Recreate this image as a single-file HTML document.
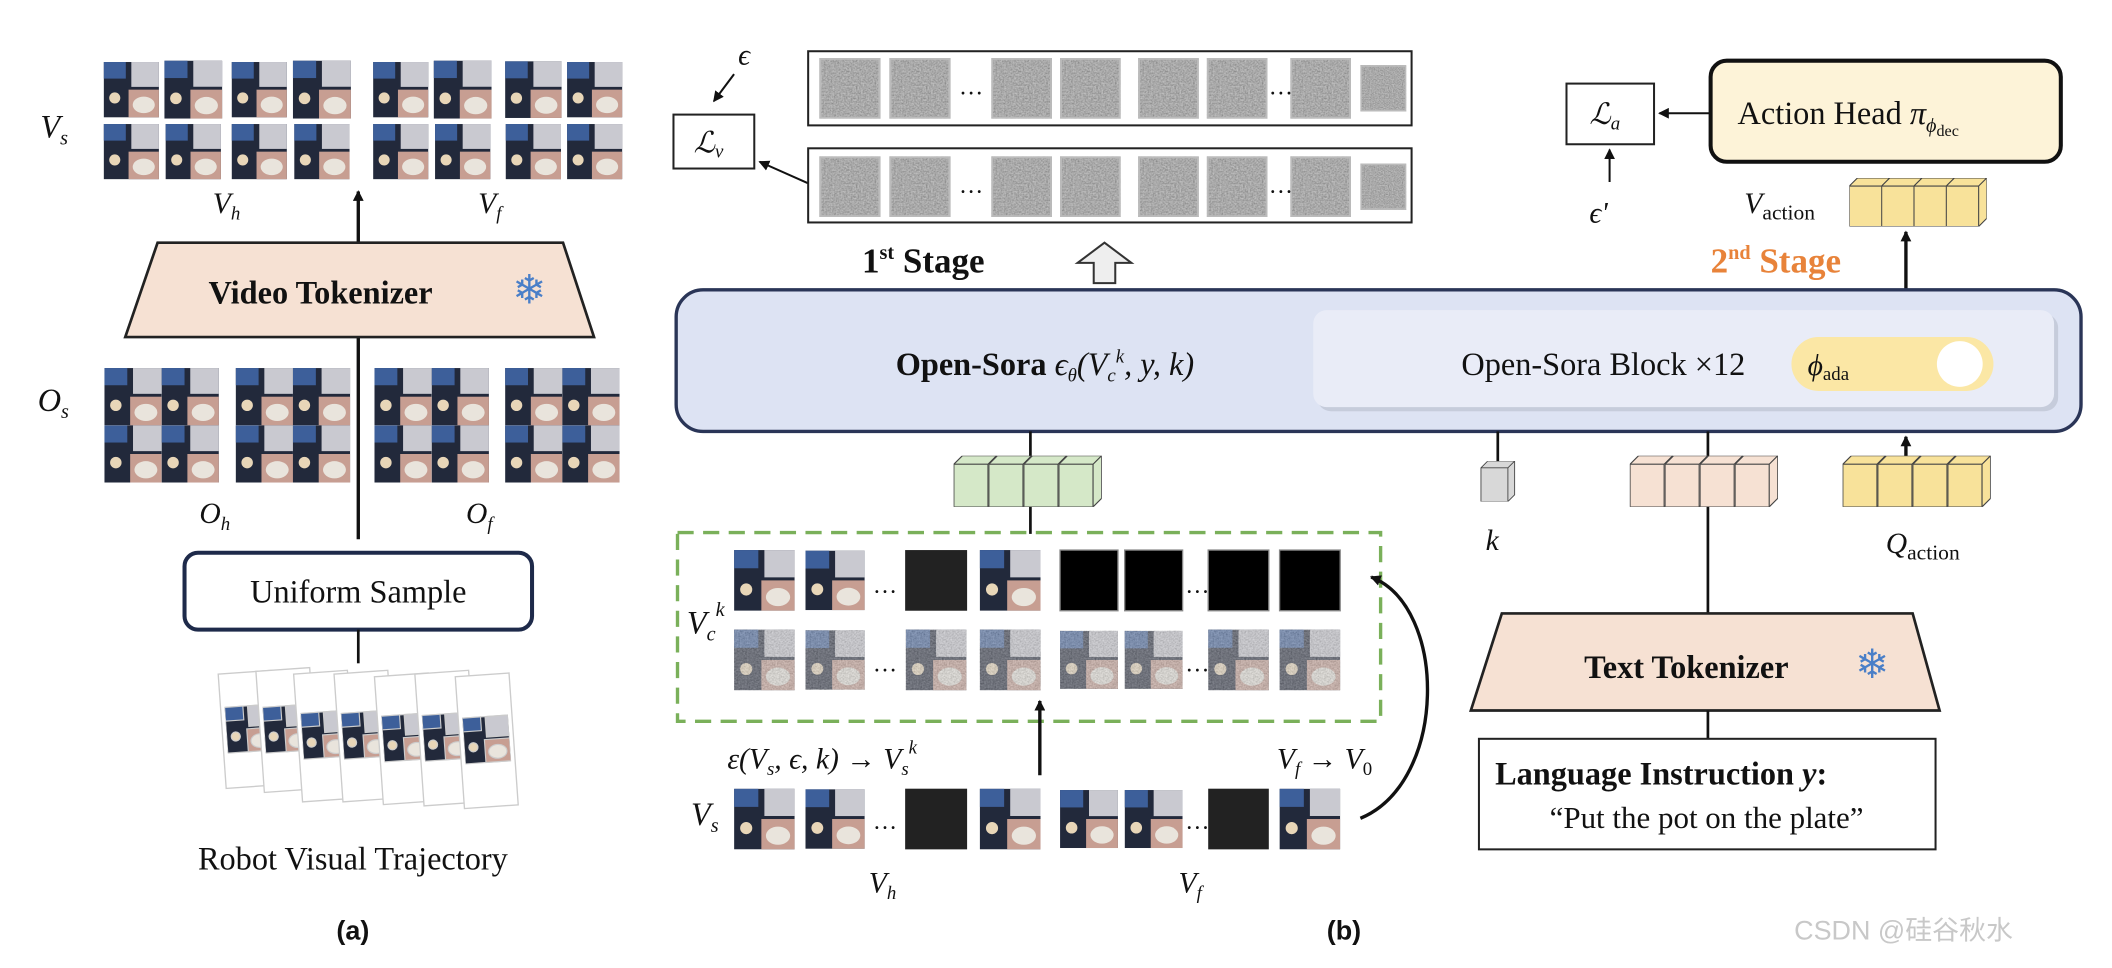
<!DOCTYPE html>
<html><head><meta charset="utf-8"><style>
html,body{margin:0;padding:0;background:#fff;}
svg{display:block;}
text{font-family:"Liberation Serif",serif;fill:#111;}
.s{font-family:"Liberation Sans",sans-serif;}
</style></head><body>
<svg width="2112" height="968" viewBox="0 0 1568 718" preserveAspectRatio="none" xmlns="http://www.w3.org/2000/svg">
<defs>
<marker id="ar" markerWidth="8" markerHeight="8" refX="7" refY="4" orient="auto" markerUnits="userSpaceOnUse"><path d="M0,0 L8,4 L0,8 z" fill="#111"/></marker>
<filter id="nz" x="0" y="0" width="1" height="1"><feTurbulence type="fractalNoise" baseFrequency="0.9" numOctaves="2" seed="3"/><feColorMatrix type="saturate" values="0"/><feComponentTransfer><feFuncA type="linear" slope="0" intercept="1"/></feComponentTransfer></filter>
<symbol id="fr" viewBox="0 0 40 40"><rect width="40" height="40" fill="#22293b"/><rect x="0" y="0" width="16" height="12" fill="#3d5f9a"/><rect x="20" y="0" width="20" height="18" fill="#c9c9d0"/><rect x="18" y="20" width="22" height="20" fill="#c79e92"/><ellipse cx="29" cy="31" rx="8" ry="6" fill="#e9e4dc"/><circle cx="8" cy="26" r="4" fill="#e8d6b8"/></symbol>
<symbol id="fq" viewBox="0 0 80 80"><use href="#fr" x="0" y="0" width="40" height="40"/><use href="#fr" x="40" y="0" width="40" height="40"/><use href="#fr" x="0" y="40" width="40" height="40"/><use href="#fr" x="40" y="40" width="40" height="40"/></symbol>
<symbol id="nf" viewBox="0 0 40 40"><rect width="40" height="40" filter="url(#nz)"/><rect width="40" height="40" fill="#888" opacity="0.35"/><rect x="0.5" y="0.5" width="39" height="39" fill="none" stroke="#bbb" stroke-width="1.5"/></symbol>
<symbol id="nc" viewBox="0 0 40 40"><use href="#fr" width="40" height="40"/><rect width="40" height="40" filter="url(#nz)" opacity="0.5"/></symbol>
<symbol id="cube" viewBox="0 0 30 36"><path d="M0,6 L6,0 L30,0 L30,30 L24,36 L0,36z" fill="currentColor" stroke="#444" stroke-width="0.8"/><path d="M0,6 L24,6 L24,36 M24,6 L30,0" fill="none" stroke="#444" stroke-width="0.8"/></symbol>
</defs>

<!-- (a) -->
<text x="30" y="102" font-size="24" font-style="italic">V<tspan font-size="15" dy="5">s</tspan></text>
<g>
<use href="#fr" x="77" y="45" width="41" height="43"/><use href="#fr" x="122" y="45" width="43" height="43"/>
<use href="#fr" x="172" y="45" width="41" height="43"/><use href="#fr" x="217" y="45" width="44" height="43"/>
<use href="#fr" x="277" y="45" width="41" height="43"/><use href="#fr" x="322" y="45" width="43" height="43"/>
<use href="#fr" x="375" y="45" width="42" height="43"/><use href="#fr" x="421" y="45" width="41" height="43"/>
<use href="#fr" x="77" y="92" width="41" height="41"/><use href="#fr" x="122" y="92" width="43" height="41"/>
<use href="#fr" x="172" y="92" width="41" height="41"/><use href="#fr" x="217" y="92" width="44" height="41"/>
<use href="#fr" x="277" y="92" width="41" height="41"/><use href="#fr" x="322" y="92" width="43" height="41"/>
<use href="#fr" x="375" y="92" width="42" height="41"/><use href="#fr" x="421" y="92" width="41" height="41"/>
</g>
<text x="158" y="158" font-size="22" font-style="italic">V<tspan font-size="14" dy="5">h</tspan></text>
<text x="355" y="158" font-size="22" font-style="italic">V<tspan font-size="14" dy="5">f</tspan></text>
<line x1="266" y1="400" x2="266" y2="142" stroke="#111" stroke-width="2.5" marker-end="url(#ar)"/>
<path d="M117,180 L418,180 L441,250 L93,250 z" fill="#f6e1d3" stroke="#222" stroke-width="2"/>
<text x="238" y="225" font-size="24" font-weight="bold" text-anchor="middle">Video Tokenizer</text>
<text x="393" y="225" font-size="30" text-anchor="middle" style="fill:#4a7fc8">❄</text>
<text x="28" y="305" font-size="24" font-style="italic">O<tspan font-size="15" dy="5">s</tspan></text>
<use href="#fq" x="77" y="273" width="86" height="85"/><use href="#fq" x="173" y="273" width="89" height="85"/>
<use href="#fq" x="277" y="273" width="87" height="85"/><use href="#fq" x="373" y="273" width="89" height="85"/>
<text x="148" y="388" font-size="22" font-style="italic">O<tspan font-size="14" dy="5">h</tspan></text>
<text x="346" y="388" font-size="22" font-style="italic">O<tspan font-size="14" dy="5">f</tspan></text>
<rect x="137" y="410" width="258" height="57" rx="10" fill="#fff" stroke="#1e2a4a" stroke-width="3"/>
<text x="266" y="447" font-size="24" text-anchor="middle">Uniform Sample</text>
<line x1="266" y1="467" x2="266" y2="492" stroke="#111" stroke-width="2"/>
<g stroke="#ccc" stroke-width="1">
<g transform="translate(162,500) rotate(-4)"><rect width="40" height="85" fill="#fff"/><use href="#fr" x="3" y="3" width="34" height="78"/></g>
<g transform="translate(190,498) rotate(-4)"><rect width="40" height="90" fill="#fff"/><use href="#fr" x="3" y="3" width="34" height="82"/></g>
<g transform="translate(218,500) rotate(-4)"><rect width="40" height="95" fill="#fff"/><use href="#fr" x="3" y="3" width="34" height="87"/></g>
<g transform="translate(248,500) rotate(-4)"><rect width="40" height="95" fill="#fff"/><use href="#fr" x="3" y="3" width="34" height="87"/></g>
<g transform="translate(278,502) rotate(-4)"><rect width="40" height="95" fill="#fff"/><use href="#fr" x="3" y="3" width="34" height="87"/></g>
<g transform="translate(308,500) rotate(-4)"><rect width="40" height="98" fill="#fff"/><use href="#fr" x="3" y="3" width="34" height="90"/></g>
<g transform="translate(338,502) rotate(-4)"><rect width="40" height="98" fill="#fff"/><use href="#fr" x="3" y="3" width="34" height="90"/></g>
</g>
<text x="262" y="645" font-size="24" text-anchor="middle">Robot Visual Trajectory</text>
<text x="262" y="697" font-size="20" font-weight="bold" text-anchor="middle" class="s">(a)</text>

<!-- (b) top -->
<text x="548" y="48" font-size="22" font-style="italic">ϵ</text>
<line x1="545" y1="55" x2="530" y2="75" stroke="#111" stroke-width="1.5" marker-end="url(#ar)"/>
<rect x="500" y="85" width="60" height="40" fill="#fff" stroke="#222" stroke-width="1.5"/>
<text x="515" y="113" font-size="22" font-style="italic">ℒ<tspan font-size="14" dy="4">v</tspan></text>
<line x1="600" y1="136" x2="564" y2="120" stroke="#111" stroke-width="1.5" marker-end="url(#ar)"/>
<rect x="600" y="38" width="448" height="55" fill="#fff" stroke="#222" stroke-width="1.5"/>
<rect x="600" y="110" width="448" height="55" fill="#fff" stroke="#222" stroke-width="1.5"/>
<g>
<use href="#nf" x="608" y="43" width="46" height="45"/><use href="#nf" x="660" y="43" width="46" height="45"/>
<use href="#nf" x="736" y="43" width="45" height="45"/><use href="#nf" x="787" y="43" width="45" height="45"/>
<use href="#nf" x="845" y="43" width="45" height="45"/><use href="#nf" x="896" y="43" width="45" height="45"/>
<use href="#nf" x="958" y="43" width="45" height="45"/><use href="#nf" x="1010" y="43" width="34" height="45"/>
<use href="#nf" x="608" y="116" width="46" height="45"/><use href="#nf" x="660" y="116" width="46" height="45"/>
<use href="#nf" x="736" y="116" width="45" height="45"/><use href="#nf" x="787" y="116" width="45" height="45"/>
<use href="#nf" x="845" y="116" width="45" height="45"/><use href="#nf" x="896" y="116" width="45" height="45"/>
<use href="#nf" x="958" y="116" width="45" height="45"/><use href="#nf" x="1010" y="116" width="34" height="45"/>
</g>
<text x="712" y="70" font-size="18">…</text><text x="942" y="70" font-size="18">…</text>
<text x="712" y="143" font-size="18">…</text><text x="942" y="143" font-size="18">…</text>
<text x="640" y="202" font-size="26" font-weight="bold">1<tspan font-size="15" dy="-10">st</tspan><tspan dy="10"> Stage</tspan></text>
<path d="M812,210 L812,195 L800,195 L820,180 L840,195 L828,195 L828,210 z" fill="#eee" stroke="#333" stroke-width="1.5"/>

<rect x="1163" y="62" width="65" height="45" fill="#fff" stroke="#222" stroke-width="1.5"/>
<text x="1180" y="92" font-size="22" font-style="italic">ℒ<tspan font-size="14" dy="4">a</tspan></text>
<line x1="1270" y1="84" x2="1232" y2="84" stroke="#111" stroke-width="1.5" marker-end="url(#ar)"/>
<line x1="1195" y1="135" x2="1195" y2="111" stroke="#111" stroke-width="1.5" marker-end="url(#ar)"/>
<text x="1180" y="165" font-size="22" font-style="italic">ϵ'</text>
<rect x="1270" y="45" width="260" height="75" rx="12" fill="#fdf3d8" stroke="#111" stroke-width="3"/>
<text x="1290" y="92" font-size="24">Action Head <tspan font-style="italic">π</tspan><tspan font-size="15" dy="6" font-style="italic">ϕ</tspan><tspan font-size="12" dy="3">dec</tspan></text>
<text x="1295" y="158" font-size="22" font-style="italic">V<tspan font-size="16" dy="5" font-style="normal">action</tspan></text>
<g color="#f8e29a"><use href="#cube" x="1373" y="132" width="30" height="36"/><use href="#cube" x="1397" y="132" width="30" height="36"/><use href="#cube" x="1421" y="132" width="30" height="36"/><use href="#cube" x="1445" y="132" width="30" height="36"/></g>
<text x="1270" y="202" font-size="26" font-weight="bold" style="fill:#e8833a">2<tspan font-size="15" dy="-10">nd</tspan><tspan dy="10"> Stage</tspan></text>
<line x1="1415" y1="215" x2="1415" y2="172" stroke="#111" stroke-width="2.5" marker-end="url(#ar)"/>

<!-- Open-Sora -->
<rect x="502" y="215" width="1043" height="105" rx="20" fill="#dde3f3" stroke="#2a3557" stroke-width="2.5"/>
<rect x="978" y="233" width="550" height="72" rx="10" fill="#b8bccb" opacity="0.6"/>
<rect x="975" y="230" width="550" height="72" rx="10" fill="#e9ecf7"/>
<text x="665" y="278" font-size="24"><tspan font-weight="bold">Open-Sora</tspan>  <tspan font-style="italic">ϵ<tspan font-size="14" dy="5">θ</tspan><tspan dy="-5">(V</tspan><tspan font-size="14" dy="5">c</tspan><tspan font-size="14" dy="-14">k</tspan><tspan dy="9">, y, k)</tspan></tspan></text>
<text x="1085" y="278" font-size="24">Open-Sora Block ×12</text>
<rect x="1330" y="250" width="150" height="40" rx="20" fill="#fbe7a5"/>
<circle cx="1455" cy="270" r="17" fill="#fff"/>
<text x="1342" y="278" font-size="22" font-style="italic">ϕ<tspan font-size="14" dy="4" font-style="normal">ada</tspan></text>

<line x1="765" y1="320" x2="765" y2="342" stroke="#111" stroke-width="2"/>
<g color="#d5e8c8"><use href="#cube" x="708" y="338" width="32" height="38"/><use href="#cube" x="734" y="338" width="32" height="38"/><use href="#cube" x="760" y="338" width="32" height="38"/><use href="#cube" x="786" y="338" width="32" height="38"/></g>
<line x1="765" y1="376" x2="765" y2="396" stroke="#111" stroke-width="2"/>
<line x1="1112" y1="320" x2="1112" y2="345" stroke="#111" stroke-width="2"/>
<g color="#d8d8d8"><use href="#cube" x="1098" y="342" width="28" height="30"/></g>
<text x="1103" y="408" font-size="22" font-style="italic">k</text>
<line x1="1268" y1="320" x2="1268" y2="340" stroke="#111" stroke-width="2"/>
<g color="#f6e1d3"><use href="#cube" x="1210" y="338" width="32" height="38"/><use href="#cube" x="1236" y="338" width="32" height="38"/><use href="#cube" x="1262" y="338" width="32" height="38"/><use href="#cube" x="1288" y="338" width="32" height="38"/></g>
<line x1="1268" y1="376" x2="1268" y2="456" stroke="#111" stroke-width="2"/>
<line x1="1415" y1="340" x2="1415" y2="324" stroke="#111" stroke-width="2.5" marker-end="url(#ar)"/>
<g color="#f8e29a"><use href="#cube" x="1368" y="338" width="32" height="38"/><use href="#cube" x="1394" y="338" width="32" height="38"/><use href="#cube" x="1420" y="338" width="32" height="38"/><use href="#cube" x="1446" y="338" width="32" height="38"/></g>
<text x="1400" y="410" font-size="22" font-style="italic">Q<tspan font-size="16" dy="5" font-style="normal">action</tspan></text>

<!-- green dashed -->
<rect x="503" y="395" width="522" height="140" fill="none" stroke="#7ab05a" stroke-width="2.5" stroke-dasharray="12,7"/>
<text x="510" y="470" font-size="24" font-style="italic">V<tspan font-size="15" dy="5">c</tspan><tspan font-size="15" dy="-18">k</tspan></text>
<use href="#fr" x="545" y="408" width="45" height="45"/><use href="#fr" x="598" y="408" width="44" height="45"/>
<rect x="672" y="408" width="46" height="45" fill="#222"/><use href="#fr" x="727" y="408" width="46" height="45"/>
<rect x="787" y="408" width="43" height="45" fill="#000" stroke="#888"/><rect x="835" y="408" width="43" height="45" fill="#000" stroke="#888"/>
<rect x="897" y="408" width="45" height="45" fill="#000" stroke="#888"/><rect x="950" y="408" width="45" height="45" fill="#000" stroke="#888"/>
<use href="#nc" x="545" y="467" width="45" height="45"/><use href="#nc" x="598" y="467" width="44" height="45"/>
<use href="#nc" x="672" y="467" width="46" height="45"/><use href="#nc" x="727" y="467" width="46" height="45"/>
<use href="#nc" x="787" y="467" width="43" height="45"/><use href="#nc" x="835" y="467" width="43" height="45"/>
<use href="#nc" x="897" y="467" width="45" height="45"/><use href="#nc" x="950" y="467" width="45" height="45"/>
<text x="648" y="440" font-size="18">…</text><text x="880" y="440" font-size="18">…</text>
<text x="648" y="498" font-size="18">…</text><text x="880" y="498" font-size="18">…</text>
<line x1="772" y1="575" x2="772" y2="520" stroke="#111" stroke-width="2.5" marker-end="url(#ar)"/>
<text x="540" y="570" font-size="22"><tspan font-style="italic">ε(V</tspan><tspan font-size="14" dy="5" font-style="italic">s</tspan><tspan dy="-5" font-style="italic">, ϵ, k) → V</tspan><tspan font-size="14" dy="5" font-style="italic">s</tspan><tspan font-size="14" dy="-16" font-style="italic">k</tspan></text>
<text x="948" y="570" font-size="22" font-style="italic">V<tspan font-size="14" dy="5">f</tspan><tspan dy="-5" font-style="normal"> → </tspan>V<tspan font-size="14" dy="5" font-style="normal">0</tspan></text>
<path d="M1010,607 C1075,580 1075,450 1018,428" fill="none" stroke="#111" stroke-width="2.5" marker-end="url(#ar)"/>
<text x="513" y="612" font-size="24" font-style="italic">V<tspan font-size="15" dy="5">s</tspan></text>
<use href="#fr" x="545" y="585" width="45" height="45"/><use href="#fr" x="598" y="585" width="44" height="45"/>
<rect x="672" y="585" width="46" height="45" fill="#222"/><use href="#fr" x="727" y="585" width="46" height="45"/>
<use href="#fr" x="787" y="585" width="43" height="45"/><use href="#fr" x="835" y="585" width="43" height="45"/>
<rect x="897" y="585" width="45" height="45" fill="#222"/><use href="#fr" x="950" y="585" width="45" height="45"/>
<text x="648" y="615" font-size="18">…</text><text x="880" y="615" font-size="18">…</text>
<text x="645" y="662" font-size="22" font-style="italic">V<tspan font-size="14" dy="5">h</tspan></text>
<text x="875" y="662" font-size="22" font-style="italic">V<tspan font-size="14" dy="5">f</tspan></text>
<text x="985" y="697" font-size="20" font-weight="bold" class="s">(b)</text>

<!-- text tokenizer -->
<path d="M1115,455 L1420,455 L1440,527 L1092,527 z" fill="#f6e1d3" stroke="#222" stroke-width="2"/>
<text x="1252" y="503" font-size="24" font-weight="bold" text-anchor="middle">Text Tokenizer</text>
<text x="1390" y="503" font-size="30" style="fill:#4a7fc8" text-anchor="middle">❄</text>
<line x1="1268" y1="527" x2="1268" y2="548" stroke="#111" stroke-width="2"/>
<rect x="1098" y="548" width="339" height="82" fill="#fff" stroke="#222" stroke-width="1.5"/>
<text x="1110" y="582" font-size="24" font-weight="bold">Language Instruction <tspan font-style="italic">y</tspan>:</text>
<text x="1267" y="614" font-size="23" text-anchor="middle">“Put the pot on the plate”</text>

<text x="1332" y="697" font-size="20" style="fill:#c8c8c8;font-family:'Liberation Sans','Noto Sans CJK SC',sans-serif">CSDN @硅谷秋水</text>
</svg>
</body></html>
